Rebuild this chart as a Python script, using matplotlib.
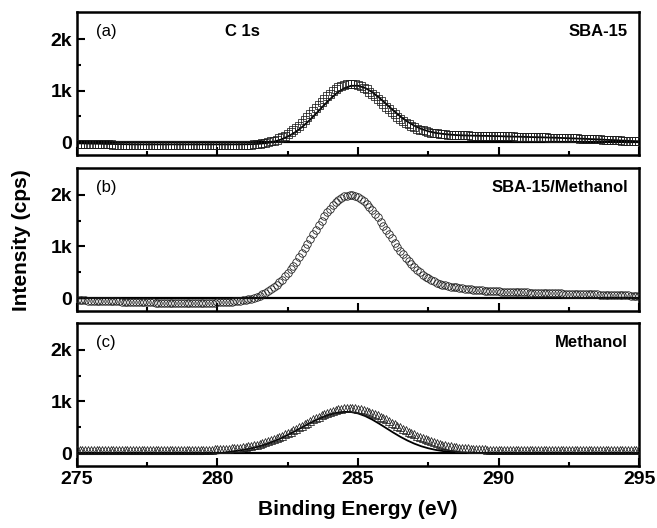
import numpy as np
import matplotlib
matplotlib.use("Agg")
import matplotlib.pyplot as plt
from matplotlib.ticker import FixedLocator, MultipleLocator

plt.rcParams['font.family'] = ['Liberation Sans', 'DejaVu Sans']

# binding energy grids (eV): spectra every 0.1 eV, fitted envelopes every 0.25 eV
energy = np.arange(2750, 2951) / 10.0
energy_fit = np.arange(275.0, 295.01, 0.25)

# (a) SBA-15, counts per second (one row per eV: x.0 .. x.9)
sba15 = [
    -30, -31, -32, -33, -34, -35, -36, -37, -38, -39,
    -40, -41, -42, -43, -44, -45, -46, -47, -48, -49,
    -50, -51, -52, -53, -54, -55, -56, -57, -58, -59,
    -60, -60, -60, -60, -60, -60, -60, -60, -60, -60,
    -60, -60, -60, -60, -60, -60, -60, -60, -60, -60,
    -60, -60, -59, -59, -58, -58, -57, -55, -54, -52,
    -50, -47, -43, -39, -33, -26, -18, -8, 4, 18,
    34, 53, 75, 100, 129, 161, 196, 236, 278, 325,
    374, 427, 482, 540, 599, 658, 718, 777, 834, 889,
    940, 986, 1028, 1063, 1092, 1114, 1128, 1135, 1134, 1125,
    1110, 1087, 1057, 1023, 983, 939, 892, 842, 792, 740,
    688, 638, 589, 541, 496, 454, 415, 379, 347, 317,
    291, 267, 247, 229, 214, 201, 189, 180, 172, 166,
    160, 155, 151, 147, 144, 141, 138, 136, 135, 133,
    131, 129, 128, 127, 126, 125, 124, 123, 122, 121,
    120, 119, 117, 116, 114, 113, 111, 110, 108, 107,
    105, 104, 102, 101, 99, 98, 96, 95, 93, 92,
    90, 88, 86, 84, 82, 80, 78, 76, 74, 72,
    70, 68, 65, 63, 60, 58, 55, 53, 50, 48,
    45, 43, 40, 38, 35, 33, 30, 28, 25, 23,
    20,
]

# (b) SBA-15/Methanol
sba15_meoh = [
    -40, -42, -43, -45, -47, -48, -50, -52, -53, -55,
    -57, -58, -60, -62, -63, -65, -67, -68, -70, -72,
    -73, -75, -77, -78, -80, -82, -83, -85, -87, -88,
    -90, -90, -90, -90, -90, -90, -90, -90, -90, -90,
    -90, -90, -89, -89, -89, -88, -88, -87, -87, -86,
    -84, -83, -81, -78, -75, -71, -66, -61, -54, -45,
    -36, -24, -10, 6, 25, 46, 71, 100, 132, 168,
    209, 254, 304, 359, 419, 484, 554, 628, 706, 788,
    873, 962, 1052, 1143, 1235, 1326, 1415, 1501, 1583, 1661,
    1732, 1796, 1852, 1900, 1938, 1967, 1985, 1993, 1990, 1976,
    1953, 1920, 1878, 1827, 1769, 1705, 1635, 1560, 1482, 1402,
    1320, 1238, 1156, 1075, 997, 921, 848, 779, 714, 654,
    598, 546, 499, 456, 417, 382, 352, 325, 301, 280,
    262, 247, 234, 222, 213, 206, 196, 187, 180, 173,
    167, 162, 157, 153, 149, 145, 142, 138, 135, 132,
    128, 126, 124, 122, 120, 118, 116, 114, 112, 110,
    108, 106, 105, 103, 102, 100, 98, 97, 95, 94,
    92, 91, 89, 88, 86, 85, 84, 82, 81, 79,
    78, 77, 75, 74, 72, 71, 69, 67, 66, 64,
    62, 60, 58, 56, 54, 52, 50, 48, 45, 43,
    40,
]

# (c) Methanol
methanol = [
    62, 62, 62, 62, 62, 62, 62, 62, 62, 62,
    62, 62, 62, 62, 62, 62, 62, 62, 62, 62,
    61, 61, 61, 61, 61, 61, 61, 61, 61, 61,
    61, 61, 61, 61, 61, 61, 61, 61, 61, 61,
    62, 62, 63, 64, 64, 65, 66, 68, 69, 71,
    73, 76, 78, 82, 86, 90, 95, 101, 107, 115,
    123, 132, 142, 153, 166, 180, 194, 211, 228, 247,
    267, 289, 312, 336, 361, 388, 415, 444, 473, 502,
    532, 562, 592, 622, 651, 679, 706, 732, 756, 779,
    799, 817, 833, 846, 857, 864, 869, 870, 869, 864,
    857, 846, 833, 817, 799, 779, 756, 732, 706, 679,
    651, 622, 592, 562, 532, 502, 473, 444, 415, 388,
    361, 336, 312, 289, 267, 247, 228, 211, 194, 180,
    166, 153, 142, 132, 123, 115, 107, 101, 95, 90,
    86, 82, 78, 76, 73, 71, 69, 68, 66, 65,
    64, 64, 63, 62, 62, 61, 61, 61, 61, 61,
    61, 61, 61, 61, 61, 60, 60, 60, 60, 60,
    59, 59, 59, 59, 59, 59, 59, 59, 59, 59,
    59, 59, 59, 59, 59, 58, 58, 58, 58, 58,
    58, 58, 58, 58, 58, 58, 58, 58, 58, 58,
    58,
]

# fitted envelopes (solid lines), one row per eV: x.00 .. x.75
fit_sba15 = [
    -20, -22, -25, -27,
    -30, -32, -35, -37,
    -40, -40, -40, -40,
    -40, -40, -40, -40,
    -40, -40, -40, -40,
    -40, -40, -40, -39,
    -38, -35, -28, -14,
    11, 52, 111, 190,
    292, 414, 552, 697,
    835, 956, 1045, 1094,
    1095, 1054, 973, 865,
    743, 619, 503, 403,
    322, 259, 214, 183,
    164, 150, 140, 134,
    130, 127, 125, 122,
    119, 115, 111, 108,
    104, 100, 97, 93,
    89, 84, 79, 74,
    69, 63, 57, 50,
    44, 38, 31, 25,
    19,
]
fit_methanol = [
    -20, -20, -20, -20,
    -20, -20, -20, -20,
    -20, -20, -20, -20,
    -20, -20, -20, -20,
    -20, -20, -20, -12,
    -5, 10, 30, 48,
    70, 98, 133, 175,
    226, 285, 351, 422,
    496, 569, 638, 699,
    748, 782, 798, 795,
    768, 718, 650, 570,
    484, 398, 317, 245,
    183, 132, 93, 63,
    41, 26, 16, 10,
    6, 3, 2, 1,
    0, 0, 0, 0,
    0, 0, 0, 0,
    0, 0, 0, 0,
    0, 0, 0, 0,
    0, 0, 0, 0,
    0,
]

panels = [
    ("(a)", "SBA-15", sba15, 's', fit_sba15),
    ("(b)", "SBA-15/Methanol", sba15_meoh, 'o', None),
    ("(c)", "Methanol", methanol, '^', fit_methanol),
]

fig = plt.figure(figsize=(6.57, 5.28), dpi=100)
left, width, height = 0.117, 0.856, 0.271
bottoms = [0.706, 0.411, 0.1174]

axes = []
for i, (tag, name, vals, mk, fit) in enumerate(panels):
    ax = fig.add_axes([left, bottoms[i], width, height])
    axes.append(ax)
    ax.axhline(0, color='k', lw=1.6, zorder=1)
    if fit is not None:
        ax.plot(energy_fit, fit, color='k', lw=1.3, zorder=2)
    ax.plot(energy, vals, linestyle='none', marker=mk, markersize=5.4,
            markerfacecolor='none', markeredgecolor='0.1',
            markeredgewidth=0.55, zorder=3)

    ax.set_xlim(275, 295)
    ax.set_ylim(-250, 2520)
    ax.xaxis.set_major_locator(MultipleLocator(5))
    ax.xaxis.set_minor_locator(MultipleLocator(2.5))
    ax.yaxis.set_major_locator(FixedLocator([0, 1000, 2000]))
    ax.yaxis.set_minor_locator(FixedLocator([500, 1500]))
    ax.set_yticklabels(['0', '1k', '2k'])
    ax.tick_params(which='both', direction='in', top=False, right=False,
                   width=1.5, labelsize=14)
    ax.tick_params(which='major', length=6)
    ax.tick_params(which='minor', length=3)
    for lab in ax.get_yticklabels() + ax.get_xticklabels():
        lab.set_fontweight('bold')
    for sp in ax.spines.values():
        sp.set_linewidth(1.8)
    if i < 2:
        ax.tick_params(labelbottom=False)

    ax.text(0.034, 0.81, tag, transform=ax.transAxes, fontsize=12,
            va='bottom', ha='left')
    ax.text(0.98, 0.81, name, transform=ax.transAxes, fontsize=12,
            fontweight='bold', va='bottom', ha='right')

axes[0].text(0.263, 0.81, "C 1s", transform=axes[0].transAxes, fontsize=12,
             fontweight='bold', va='bottom', ha='left')

axes[2].set_xlabel("Binding Energy (eV)", fontsize=15, fontweight='bold',
                   labelpad=9)
fig.text(0.033, 0.545, "Intensity (cps)", rotation=90, fontsize=15,
         fontweight='bold', ha='center', va='center')

fig.savefig("out.png", dpi=100)
